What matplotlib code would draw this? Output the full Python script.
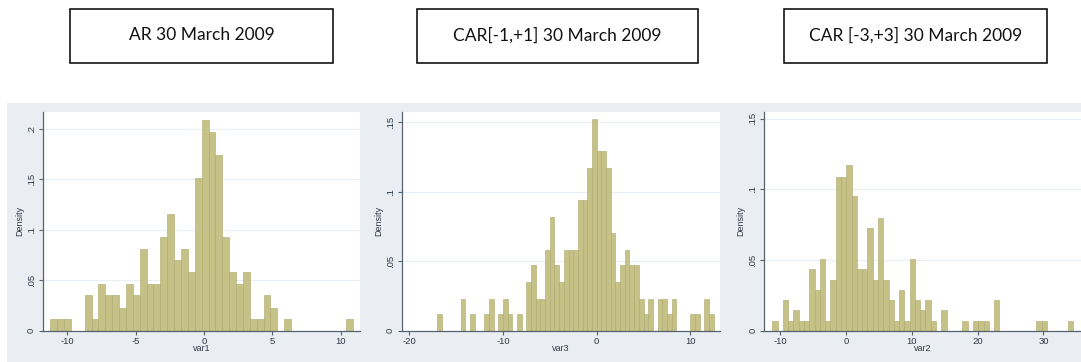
"""Three Stata-style density histograms of abnormal returns around 30 March 2009."""
import matplotlib
matplotlib.use("Agg")
import matplotlib.pyplot as plt
from matplotlib.patches import Rectangle
import numpy as np

# --- data (density per bin) ------------------------------------------------
titles = ["AR 30 March 2009", "CAR[-1,+1] 30 March 2009", "CAR [-3,+3] 30 March 2009"]
var_names = ["var1", "var3", "var2"]

# AR: 44 bins starting at -11.24, width 0.503
ar_start, ar_width = -11.24, 0.503
ar_density = [
    0.012, 0.012, 0.012, 0, 0, 0.035, 0.012, 0.046, 0.035, 0.035, 0.023,
    0.046, 0.035, 0.081, 0.046, 0.046, 0.093, 0.116, 0.070, 0.081, 0.058,
    0.151, 0.209, 0.197, 0.174, 0.093, 0.058, 0.046, 0.058, 0.012, 0.012,
    0.035, 0.023, 0, 0.012, 0, 0, 0, 0, 0, 0, 0, 0, 0.012,
]

# CAR[-1,+1]: 59 bins starting at -17.0, width 0.5
car1_start, car1_width = -17.0, 0.5
car1_density = [
    0.012, 0, 0, 0, 0, 0.023, 0, 0.012, 0, 0, 0.012, 0.023, 0, 0.012, 0.023,
    0.012, 0, 0.012, 0, 0.035, 0.047, 0.023, 0.023, 0.058, 0.082, 0.047,
    0.035, 0.058, 0.058, 0.058, 0.094, 0.094, 0.117, 0.152, 0.129, 0.129,
    0.117, 0.070, 0.035, 0.047, 0.058, 0.047, 0.047, 0.023, 0.012, 0.023, 0,
    0.023, 0.023, 0.012, 0.023, 0, 0, 0, 0.012, 0.012, 0, 0.023, 0.012,
]

# CAR[-3,+3]: 57 bins starting at -11.2, width 0.8025
car3_start, car3_width = -11.2, 0.8025
car3_density = [
    0.007, 0, 0.022, 0.007, 0.015, 0.007, 0.007, 0.044, 0.029, 0.051, 0.007,
    0.036, 0.109, 0.109, 0.117, 0.095, 0.044, 0.044, 0.073, 0.036, 0.080,
    0.036, 0.022, 0.007, 0.029, 0.007, 0.051, 0.022, 0.015, 0.022, 0.007, 0,
    0.015, 0, 0, 0, 0.007, 0, 0.007, 0.007, 0.007, 0, 0.022, 0, 0, 0, 0, 0,
    0, 0, 0.007, 0.007, 0, 0, 0, 0, 0.007,
]

xticks = [[-10, -5, 0, 5, 10], [-20, -10, 0, 10], [-10, 0, 10, 20, 30]]
yticks = [[0, 0.05, 0.1, 0.15, 0.2], [0, 0.05, 0.1, 0.15], [0, 0.05, 0.1, 0.15]]
ytick_labels = [["0", ".05", ".1", ".15", ".2"], ["0", ".05", ".1", ".15"], ["0", ".05", ".1", ".15"]]

# --- layout ---------------------------------------------------------------
W, H = 1081, 362
BG = "#eaeef3"
BAR = "#c6c287"
BAR_EDGE = "#aca86c"
AXIS = "#56626f"
TXT = "#2e3a47"

panels = [
    dict(start=ar_start, width=ar_width, dens=ar_density, rect=(42.7, 360), xlim=(-11.79, 11.40), ylim=(0, 0.2172)),
    dict(start=car1_start, width=car1_width, dens=car1_density, rect=(401.7, 720), xlim=(-20.8, 13.16), ylim=(0, 0.1576)),
    dict(start=car3_start, width=car3_width, dens=car3_density, rect=(764, 1081), xlim=(-12.46, 35.7), ylim=(0, 0.155)),
]
title_boxes = [(70, 333), (417, 698), (784, 1047)]

fig = plt.figure(figsize=(W / 100, H / 100), dpi=100)
# graph region behind all three panels
fig.patches.append(Rectangle((7 / W, 0), 1 - 7 / W, (H - 103) / H, transform=fig.transFigure,
                             facecolor=BG, edgecolor="none", zorder=-10))

plot_top, plot_bottom = 111.7, 330.7
for i, p in enumerate(panels):
    x0, x1 = p["rect"]
    ax = fig.add_axes([x0 / W, (H - plot_bottom) / H, (x1 - x0) / W, (plot_bottom - plot_top) / H])
    ax.set_facecolor("white")
    dens = np.array(p["dens"])
    lefts = p["start"] + p["width"] * np.arange(len(dens))
    ax.bar(lefts, dens, width=p["width"], align="edge", color=BAR, edgecolor=BAR_EDGE,
           linewidth=0.4, zorder=2)
    ax.set_xlim(*p["xlim"])
    ax.set_ylim(*p["ylim"])
    ax.set_xticks(xticks[i])
    ax.set_xticklabels([str(t) for t in xticks[i]])
    ax.set_yticks(yticks[i])
    ax.set_yticklabels(ytick_labels[i], rotation=90, va="center")
    for y in yticks[i][1:]:
        ax.axhline(y, color="#e8eef5", lw=0.8, zorder=1)
    for side in ("top", "right"):
        ax.spines[side].set_visible(False)
    for side in ("left", "bottom"):
        ax.spines[side].set_color(AXIS)
        ax.spines[side].set_linewidth(0.9)
    ax.tick_params(length=3, width=0.8, color=AXIS, labelsize=6.8, labelcolor=TXT, pad=1.8)
    for lbl in ax.get_xticklabels() + ax.get_yticklabels():
        lbl.set_family("Liberation Sans")
    ax.set_ylabel("Density", fontsize=6.5, color=TXT, family="Liberation Sans", labelpad=2)
    ax.set_xlabel(var_names[i], fontsize=6.5, color=TXT, family="Liberation Sans", labelpad=-1.5)

# title boxes above the panels
for (bx0, bx1), title in zip(title_boxes, titles):
    fig.patches.append(Rectangle((bx0 / W, (H - 63) / H), (bx1 - bx0) / W, 54 / H,
                                 transform=fig.transFigure, facecolor="white",
                                 edgecolor="black", linewidth=1.1))
    fig.text((bx0 + bx1) / 2 / W, 1 - 35 / H, title, ha="center", va="center",
             fontsize=12.5, family="Lato", color="#111111")

fig.savefig("out.png", dpi=100)
